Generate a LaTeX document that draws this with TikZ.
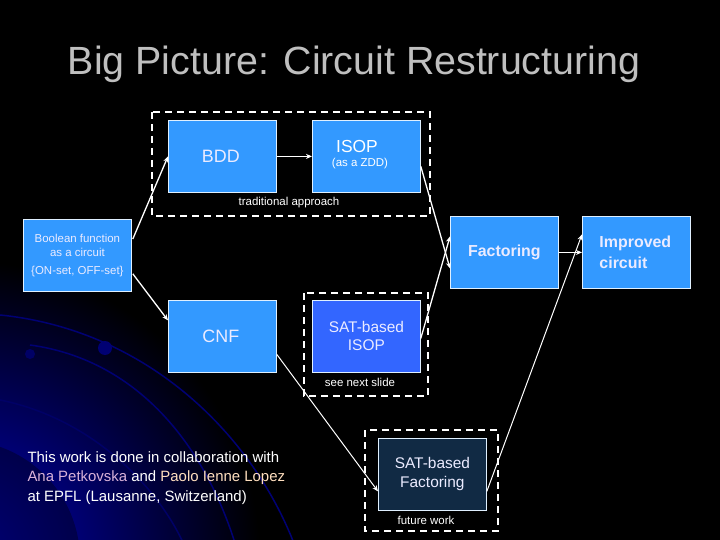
\documentclass[tikz,border=0pt]{standalone}
\usepackage{fontspec}
\setmainfont{Liberation Sans}
\usetikzlibrary{arrows.meta}
\definecolor{boxb}{HTML}{3399FF}
\definecolor{boxd}{HTML}{3366FF}
\definecolor{boxn}{HTML}{112A44}
\begin{document}
\begin{tikzpicture}[x=1bp,y=-1bp,
  box/.style={draw=white!85!boxb,line width=0.8bp,fill=boxb,minimum width=108bp,minimum height=72bp,text=white!92!blue,inner sep=0pt,anchor=north west,align=center},
  dashbox/.style={draw=white,line width=2.5bp,dash pattern=on 7bp off 5bp},
  arr/.style={draw=white,line width=1.3bp,-{Stealth[length=6bp,width=5bp]}},
  small/.style={text=white,font=\fontsize{11.5}{13}\selectfont}]
\useasboundingbox (0,0) rectangle (720,540);
\fill[black] (0,0) rectangle (720,540);
\begin{scope}
\clip (0,0) rectangle (720,540);
\shade[inner color=blue!75!black,outer color=black] (-40,560) circle (300bp);
\fill[black,opacity=0.35] (-40,560) circle (120bp);
\draw[blue!45!black,line width=1.5bp] (0,315) .. controls (150,330) and (260,440) .. (300,560);
\draw[blue!45!black,line width=1.5bp] (30,345) .. controls (140,360) and (210,450) .. (240,560);
\draw[blue!40!black,line width=1.5bp] (0,400) .. controls (100,420) and (170,500) .. (190,560);
\fill[blue!45!black] (105,348) circle (7bp);
\fill[blue!40!black] (30,354) circle (5bp);
\end{scope}
\node[text=white!75!black,font=\fontsize{39.5}{44}\selectfont] (title) at (354,64) {Big Picture: Circuit Restructuring};

\node[box,font=\fontsize{18}{20}\selectfont] (bdd) at (168,120) {\hspace*{-3bp}BDD};
\node[box] (isop) at (312,120) {};
\node[text=white,font=\fontsize{17.5}{20}\selectfont] (isopt) at (357,146) {ISOP};
\node[text=white,font=\fontsize{11.5}{13}\selectfont] (isops) at (360,164) {(as a ZDD)};
\node[box,font=\fontsize{11.5}{14}\selectfont] (bool) at (23,219) {Boolean function\\as a circuit\\[4bp]\{ON-set, OFF-set\}};
\node[box,font=\fontsize{18}{20}\selectfont] (cnf) at (168,300) {\hspace*{-3bp}CNF};
\node[box,fill=boxd,font=\fontsize{15.5}{18}\selectfont] (sisop) at (312,300) {SAT-based\\ISOP};
\node[box,font=\bfseries\fontsize{16}{18}\selectfont] (fact) at (450,216) {Factoring};
\node[box,font=\bfseries\fontsize{16}{21}\selectfont,align=left] (impr) at (582,216) {Improved\\circuit\hspace*{26bp}};
\node[box,fill=boxn,font=\fontsize{15.5}{19}\selectfont] (sfact) at (378,438) {SAT-based\\Factoring};

\draw[dashbox] (152,112) rectangle (430,216);
\draw[dashbox] (304,293) rectangle (428,396);
\draw[dashbox] (365,430) rectangle (498,531);
\node[small] (trad) at (289,203) {traditional approach};
\node[small] (next) at (360,382) {see next slide};
\node[small] (fut) at (426,520) {future work};

\draw[arr] (bool.north east) ++(1,20) -- (bdd.west);
\draw[arr] (bool.south east) ++(1,-18) -- ([yshift=16bp]cnf.west);
\draw[arr] (bdd.east) -- (isop.west);
\draw[arr] ([yshift=-10bp]isop.east) -- ([yshift=-16bp]fact.west);
\draw[arr] ([yshift=-2bp]sisop.east) -- ([yshift=16bp]fact.west);
\draw[arr,line width=1bp] ([yshift=-18bp]cnf.east) -- ([yshift=-17bp]sfact.west);
\draw[arr,line width=1bp] ([yshift=-17bp]sfact.east) -- ([yshift=18bp]impr.west);
\draw[arr] (fact.east) -- (impr.west);

\node[anchor=north west,align=left,text=white,font=\fontsize{15}{19.5}\selectfont] (credit) at (24,448)
 {This work is done in collaboration with\\
 \textcolor{violet!30!white}{Ana Petkovska} and \textcolor{orange!25!white}{Paolo Ienne Lopez}\\
 at EPFL (Lausanne, Switzerland)};
\end{tikzpicture}
\end{document}
